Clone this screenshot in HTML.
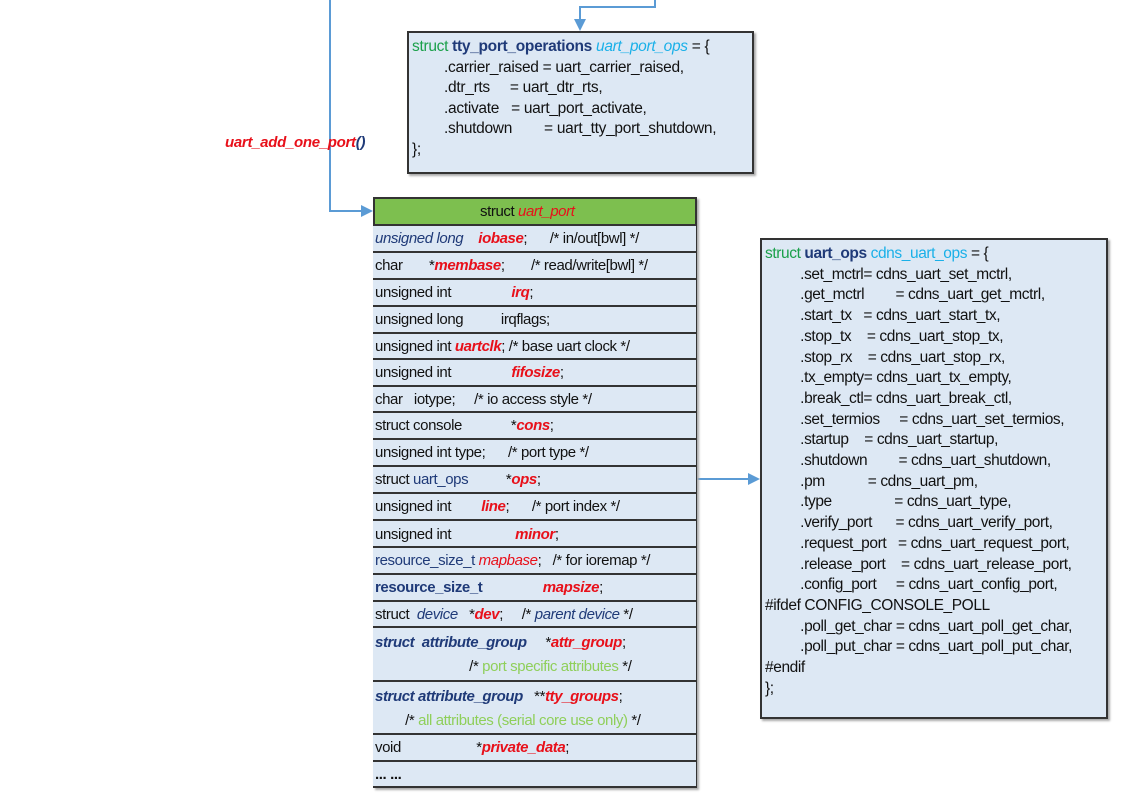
<!DOCTYPE html>
<html><head><meta charset="utf-8"><style>
body{margin:0;width:1121px;height:801px;background:#fff;position:relative;overflow:hidden;font-family:"Liberation Sans",sans-serif;}
.box{position:absolute;background:#dde8f4;border:2px solid #333;box-sizing:border-box;box-shadow:2px 2px 2px #aaa;}
.t{position:absolute;white-space:pre;font-size:15px;letter-spacing:-0.4px;color:#111;line-height:20px;}
.r{color:#e8101a;font-style:italic;font-weight:bold}
.b{color:#1f3a78}
.bi{color:#1f3a78;font-style:italic}
.g{color:#1aa04a}
.c{color:#1ab0e8}
.lg{color:#8fcf5a}
.row{position:absolute;left:373px;width:323px;border-top:2px solid #333;box-sizing:border-box;background:#dde8f4;}
.row span.t{left:2px}
</style></head><body>
<svg width="1121" height="801" style="position:absolute;left:0;top:0">
<g stroke="#5b9bd5" stroke-width="2" fill="none">
<polyline points="330,0 330,211 363,211"/>
<polyline points="655,0 655,7 580,7 580,22"/>
<line x1="697" y1="479" x2="750" y2="479"/>
</g>
<g fill="#5b9bd5">
<polygon points="373,211 361,205 361,217"/>
<polygon points="580,31 574,19 586,19"/>
<polygon points="760,479 748,473 748,485"/>
</g>
</svg>
<div class="t" style="left:225px;top:133px;font-size:15px;letter-spacing:-0.3px"><span class="r">uart_add_one_port</span><span class="bi" style="font-weight:bold">()</span></div>

<div class="box" style="left:407px;top:31px;width:347px;height:143px"></div>
<div class="t" style="left:412px;top:37px;line-height:20.6px;font-size:15.5px;letter-spacing:-0.3px"><span class="g">struct</span> <span class="b" style="font-weight:bold">tty_port_operations</span> <span class="c" style="font-style:italic">uart_port_ops</span> = {
        .carrier_raised = uart_carrier_raised,
        .dtr_rts     = uart_dtr_rts,
        .activate   = uart_port_activate,
        .shutdown        = uart_tty_port_shutdown,
};</div>

<div style="position:absolute;left:373px;top:197px;width:324px;height:591px;border:2px solid #333;box-sizing:border-box;background:#dde8f4;box-shadow:2px 2px 2px #aaa"></div>
<div style="position:absolute;left:375px;top:199px;width:320px;height:25px;background:#7dbf4f"></div>
<div class="t" style="left:480px;top:202px">struct <span class="r" style="font-weight:normal">uart_port</span></div>

<div class="row" style="top:224px;height:27px"><span class="t" style="top:3px"><span class="bi">unsigned long</span>    <span class="r">iobase</span>;      /* in/out[bwl] */</span></div>
<div class="row" style="top:251px;height:27px"><span class="t" style="top:3px">char       *<span class="r">membase</span>;       /* read/write[bwl] */</span></div>
<div class="row" style="top:278px;height:27px"><span class="t" style="top:3px">unsigned int                <span class="r">irq</span>;</span></div>
<div class="row" style="top:305px;height:27px"><span class="t" style="top:3px">unsigned long          irqflags;</span></div>
<div class="row" style="top:332px;height:26px"><span class="t" style="top:3px">unsigned int <span class="r">uartclk</span>; /* base uart clock */</span></div>
<div class="row" style="top:358px;height:27px"><span class="t" style="top:3px">unsigned int                <span class="r">fifosize</span>;</span></div>
<div class="row" style="top:385px;height:26px"><span class="t" style="top:3px">char   iotype;     /* io access style */</span></div>
<div class="row" style="top:411px;height:27px"><span class="t" style="top:3px">struct console             *<span class="r">cons</span>;</span></div>
<div class="row" style="top:438px;height:27px"><span class="t" style="top:3px">unsigned int type;      /* port type */</span></div>
<div class="row" style="top:465px;height:27px"><span class="t" style="top:3px">struct <span class="b">uart_ops</span>          *<span class="r">ops</span>;</span></div>
<div class="row" style="top:492px;height:27px"><span class="t" style="top:3px">unsigned int        <span class="r">line</span>;      /* port index */</span></div>
<div class="row" style="top:519px;height:27px"><span class="t" style="top:4px">unsigned int                 <span class="r">minor</span>;</span></div>
<div class="row" style="top:546px;height:27px"><span class="t" style="top:3px"><span class="b">resource_size_t</span> <span class="r" style="font-weight:normal">mapbase</span>;   /* for ioremap */</span></div>
<div class="row" style="top:573px;height:27px"><span class="t" style="top:3px"><span class="b" style="font-weight:bold">resource_size_t</span>                <span class="r">mapsize</span>;</span></div>
<div class="row" style="top:600px;height:26px"><span class="t" style="top:3px">struct  <span class="bi">device</span>   *<span class="r">dev</span>;     /* <span class="bi">parent device</span> */</span></div>
<div class="row" style="top:626px;height:54px"><span class="t" style="top:3px;line-height:24px"><span class="bi" style="font-weight:bold">struct  attribute_group</span>     *<span class="r">attr_group</span>;
                         /* <span class="lg">port specific attributes</span> */</span></div>
<div class="row" style="top:680px;height:53px"><span class="t" style="top:3px;line-height:24px"><span class="bi" style="font-weight:bold">struct attribute_group</span>   **<span class="r">tty_groups</span>;
        /* <span class="lg">all attributes (serial core use only)</span> */</span></div>
<div class="row" style="top:733px;height:27px"><span class="t" style="top:3px">void                    *<span class="r">private_data</span>;</span></div>
<div class="row" style="top:760px;height:26px"><span class="t" style="top:3px;font-weight:bold">... ...</span></div>

<div class="box" style="left:760px;top:238px;width:348px;height:481px"></div>
<div class="t" style="left:765px;top:244px;line-height:20.7px;font-size:15.5px;letter-spacing:-0.4px;color:#111"><span class="g">struct</span> <span class="b" style="font-weight:bold">uart_ops</span> <span class="c">cdns_uart_ops</span> = {
         .set_mctrl= cdns_uart_set_mctrl,
         .get_mctrl        = cdns_uart_get_mctrl,
         .start_tx   = cdns_uart_start_tx,
         .stop_tx    = cdns_uart_stop_tx,
         .stop_rx    = cdns_uart_stop_rx,
         .tx_empty= cdns_uart_tx_empty,
         .break_ctl= cdns_uart_break_ctl,
         .set_termios     = cdns_uart_set_termios,
         .startup    = cdns_uart_startup,
         .shutdown        = cdns_uart_shutdown,
         .pm           = cdns_uart_pm,
         .type                = cdns_uart_type,
         .verify_port      = cdns_uart_verify_port,
         .request_port   = cdns_uart_request_port,
         .release_port    = cdns_uart_release_port,
         .config_port     = cdns_uart_config_port,
#ifdef CONFIG_CONSOLE_POLL
         .poll_get_char = cdns_uart_poll_get_char,
         .poll_put_char = cdns_uart_poll_put_char,
#endif
};</div>
</body></html>
